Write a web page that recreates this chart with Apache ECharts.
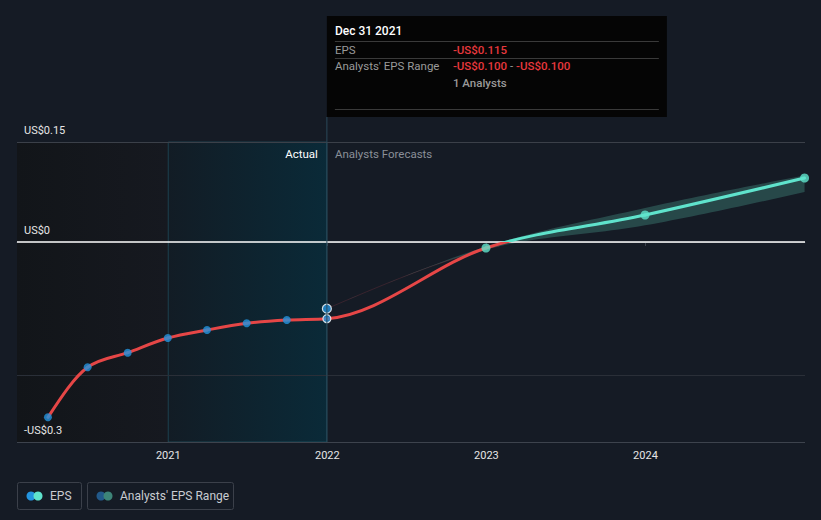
<!DOCTYPE html>
<html><head><meta charset="utf-8">
<script src="https://cdn.jsdelivr.net/npm/echarts@6/dist/echarts.min.js"></script>
<style>html,body{margin:0;padding:0;background:#151b25;}#c{width:821px;height:520px;}</style>
</head><body><div id="c"></div>
<script>
// ---- data ----
const actualDates = ['2020-03-31','2020-06-30','2020-09-30','2020-12-31','2021-03-31','2021-06-30','2021-09-30','2021-12-31'];
const actualEps = [-0.263,-0.188,-0.166,-0.144,-0.132,-0.122,-0.117,-0.115];
const forecastDates = ['2021-12-31','2022-12-31','2023-12-31','2024-12-31'];
const forecastEps = [-0.115,-0.009,0.0405,0.096];
const rangeDates = ['2021-12-31','2022-12-31','2023-12-31','2024-12-31'];
const rangeLow = [-0.100,-0.011,0.025,0.075];
const rangeHigh = [-0.100,-0.007,0.051,0.100];
const yTicks = [0.15, 0, -0.3];
const yTickLabels = ['US$0.15', 'US$0', '-US$0.3'];
const extraGridLine = -0.2;
const xRange = ['2020-01-20','2025-01-01'];
const historyPeriod = ['2020-01-20','2021-01-01'];
const actualPeriod = ['2021-01-01','2021-12-31'];
const hoverDate = '2021-12-31';
const tip = {title:'Dec 31 2021', epsLabel:'EPS', eps:'-US$0.115', rangeLabel:"Analysts' EPS Range", low:'-US$0.100', high:'-US$0.100', analysts:'1 Analysts'};
const legendItems = ['EPS',"Analysts' EPS Range"];

const RED = '#e64646', TEAL = '#5fe3cc', BLUE = '#2394df';
const ts = d => +new Date(d + 'T00:00:00Z');
const zip = (a, b) => a.map((d, i) => [ts(d), b[i]]);
const epsPts = zip(actualDates.concat(forecastDates.slice(1)), actualEps.concat(forecastEps.slice(1)));
const lowPts = zip(rangeDates, rangeLow);
const highPts = zip(rangeDates, rangeHigh);

// monotone-x cubic tangents (pixel space)
function monoTangents(p) {
  const n = p.length, t = new Array(n).fill(0), s = [];
  for (let i = 0; i < n - 1; i++) s.push((p[i + 1][1] - p[i][1]) / (p[i + 1][0] - p[i][0]));
  for (let i = 1; i < n - 1; i++) {
    const h0 = p[i][0] - p[i - 1][0], h1 = p[i + 1][0] - p[i][0], s0 = s[i - 1], s1 = s[i];
    const pp = (s0 * h1 + s1 * h0) / (h0 + h1);
    t[i] = (Math.sign(s0) + Math.sign(s1)) * Math.min(Math.abs(s0), Math.abs(s1), 0.5 * Math.abs(pp)) || 0;
  }
  if (n > 2) { t[0] = (3 * s[0] - t[1]) / 2; t[n - 1] = (3 * s[n - 2] - t[n - 2]) / 2; }
  else { t[0] = t[n - 1] = s[0]; }
  return t;
}
function segment(px, t, i) {
  const [x0, y0] = px[i], [x1, y1] = px[i + 1], dx = (x1 - x0) / 3;
  return [[x0, y0], [x0 + dx, y0 + dx * t[i]], [x1 - dx, y1 - dx * t[i + 1]], [x1, y1]];
}
function sampleCurve(px) {
  const t = monoTangents(px), out = [];
  for (let i = 0; i < px.length - 1; i++) {
    const [a, b, c, d] = segment(px, t, i);
    for (let k = (i === 0 ? 0 : 1); k <= 24; k++) {
      const u = k / 24, v = 1 - u;
      out.push([v*v*v*a[0] + 3*v*v*u*b[0] + 3*v*u*u*c[0] + u*u*u*d[0], v*v*v*a[1] + 3*v*v*u*b[1] + 3*v*u*u*c[1] + u*u*u*d[1]]);
    }
  }
  return out;
}

const chart = echarts.init(document.getElementById('c'), null, {renderer: 'svg'});
const F = 'Roboto, "Noto Sans", sans-serif';
const option = {
  backgroundColor: '#151b25',
  animation: false,
  textStyle: {fontFamily: F},
  grid: {left: 17, right: 16, top: 142, bottom: 78},
  xAxis: {
    type: 'time', min: ts(xRange[0]), max: ts(xRange[1]),
    minInterval: 365 * 864e5, maxInterval: 366 * 864e5,
    axisLine: {lineStyle: {color: '#3d434d', width: 1}},
    axisTick: {show: true, length: 4, lineStyle: {color: '#3d434d'}},
    axisLabel: {color: '#e6e6e6', fontSize: 11, margin: 8, showMinLabel: false, showMaxLabel: false,
      formatter: v => { const d = new Date(v); return (d.getUTCMonth() === 0 && d.getUTCDate() === 1) ? String(d.getUTCFullYear()) : ''; }},
    splitLine: {show: false}
  },
  yAxis: {
    type: 'value', min: -0.3, max: 0.15, interval: 0.05,
    axisLine: {show: false}, axisTick: {show: false}, splitLine: {show: false}, axisLabel: {show: false}
  },
  series: [
    {
      name: "Analysts' EPS Range", type: 'custom', z: 3, silent: true,
      encode: {x: 0, y: 1},
      data: [lowPts[0]],
      renderItem: (params, api) => {
        const up = sampleCurve(highPts.map(p => api.coord(p)));
        const lo = sampleCurve(lowPts.map(p => api.coord(p)));
        const yZ = api.coord([lowPts[0][0], 0])[1];
        return {type: 'group', children: [
          {type: 'polygon', shape: {points: up.concat(lo.slice().reverse())}, style: {fill: 'rgba(75,165,150,0.33)', stroke: 'none'}},
          {type: 'polyline', shape: {points: lo.filter(p => p[1] > yZ + 4)}, style: {fill: 'none', stroke: 'rgba(160,60,70,0.25)', lineWidth: 1}}
        ]};
      }
    },
    {
      name: 'EPS line', type: 'custom', z: 5, silent: true,
      encode: {x: 0, y: 1},
      data: epsPts,
      renderItem: (params, api) => {
        const i = params.dataIndex;
        if (i >= epsPts.length - 1) return null;
        const px = epsPts.map(p => api.coord(p));
        const t = monoTangents(px);
        const [a, b, c, d] = segment(px, t, i);
        const x0 = epsPts[0][0];
        const yT = api.coord([x0, 0.15])[1], yB = api.coord([x0, -0.3])[1], yZ = api.coord([x0, 0])[1];
        const off = (yZ - yT) / (yB - yT);
        return {type: 'bezierCurve',
          shape: {x1: a[0], y1: a[1], cpx1: b[0], cpy1: b[1], cpx2: c[0], cpy2: c[1], x2: d[0], y2: d[1]},
          style: {fill: 'none', lineWidth: 3, lineCap: 'round',
            stroke: {type: 'linear', global: true, x: 0, y: yT, x2: 0, y2: yB,
              colorStops: [{offset: 0, color: TEAL}, {offset: off, color: TEAL}, {offset: off, color: RED}, {offset: 1, color: RED}]}}};
      }
    },
    {
      name: 'EPS', type: 'scatter', z: 7, symbolSize: 8,
      data: zip(actualDates, actualEps).map((p, i) => i === actualDates.length - 1 ? {value: p, itemStyle: {borderColor: '#fff', borderWidth: 1.2}} : p),
      itemStyle: {color: BLUE},
      markArea: {
        silent: true,
        data: [
          [{xAxis: ts(historyPeriod[0]), itemStyle: {color: {type: 'linear', x: 0, y: 0, x2: 1, y2: 0, colorStops: [{offset: 0, color: '#121519'}, {offset: 1, color: '#161920'}]}}}, {xAxis: ts(historyPeriod[1])}],
          [{xAxis: ts(actualPeriod[0]), itemStyle: {borderColor: 'rgba(40,110,130,0.45)', borderWidth: 1, color: {type: 'linear', x: 0, y: 0, x2: 1, y2: 0, colorStops: [{offset: 0, color: '#121c25'}, {offset: 1, color: '#0a2a38'}]}}}, {xAxis: ts(actualPeriod[1])}]
        ]
      },
      markLine: {
        silent: true, symbol: 'none',
        data: yTicks.map((v, i) => ({yAxis: v,
          lineStyle: {color: v === 0 ? '#ffffff' : (v > 0 ? '#3b4049' : '#3d434d'), width: v === 0 ? 1.5 : 1, type: 'solid'},
          label: {show: true, position: 'insideStartTop', formatter: yTickLabels[i], color: '#e6e6e6', fontSize: 11, fontFamily: F, distance: [7, 6]}}))
          .concat([{yAxis: extraGridLine, lineStyle: {color: '#2a2f38', width: 1, type: 'solid'}, label: {show: false}}])
      }
    },
    {
      name: 'Forecast points', type: 'scatter', z: 7, symbolSize: 9,
      data: zip(forecastDates.slice(1), forecastEps.slice(1)),
      itemStyle: {color: TEAL}
    },
    {
      name: 'Range point', type: 'scatter', z: 7, symbolSize: 9,
      data: [highPts[0]],
      itemStyle: {color: BLUE, borderColor: '#fff', borderWidth: 1.2}
    }
  ]
};
chart.setOption(option);

// decorations positioned through the chart's own scales
const xDiv = chart.convertToPixel({xAxisIndex: 0}, ts(hoverDate));
const yTopPx = chart.convertToPixel({yAxisIndex: 0}, 0.15);
const yBotPx = chart.convertToPixel({yAxisIndex: 0}, -0.3);
const tipTop = 16, tipH = 101, tipW = 340;
const txt = (x, y, s, fill, extra) => ({type: 'text', z: 100, x, y, style: Object.assign({text: s, fill, font: '11.5px ' + F, verticalAlign: 'middle', align: 'left'}, extra || {})});
const sep = y => ({type: 'line', z: 101, shape: {x1: xDiv + 8, y1: y, x2: xDiv + 332, y2: y}, style: {stroke: '#3a3a3a', lineWidth: 1}});
const legendBox = (x, w, c1, c2, label) => ([
  {type: 'rect', shape: {x: x + 0.5, y: 482.5, width: w, height: 27, r: 2}, style: {fill: 'none', stroke: '#3b404a', lineWidth: 1}},
  {type: 'circle', shape: {cx: x + 14, cy: 496, r: 4.5}, style: {fill: c1}},
  {type: 'circle', shape: {cx: x + 21, cy: 496, r: 4.5}, style: {fill: c2}},
  txt(x + 33, 496, label, '#c9ccd1', {font: '12px ' + F})
]);
const onTop = o => Object.assign(o, {z: 101});

chart.setOption({
  graphic: [
    {type: 'line', z: 50, shape: {x1: xDiv, y1: tipTop + tipH, x2: xDiv, y2: yBotPx}, style: {stroke: '#2b4858', lineWidth: 1}},
    txt(xDiv - 9, yTopPx + 12, 'Actual', '#ffffff', {align: 'right', font: '11.5px ' + F}),
    txt(xDiv + 8, yTopPx + 12, 'Analysts Forecasts', '#8a8f98', {font: '11.5px ' + F}),
    {type: 'rect', z: 100, shape: {x: xDiv, y: tipTop, width: tipW, height: tipH}, style: {fill: '#050505'}},
    onTop(txt(xDiv + 8, 31, tip.title, '#ffffff', {font: '500 12px ' + F})),
    sep(41.5),
    onTop(txt(xDiv + 8, 49.5, tip.epsLabel, '#9a9a9a')),
    onTop(txt(xDiv + 126, 49.5, tip.eps, '#e8383d', {font: '500 11.5px ' + F})),
    sep(58.5),
    onTop(txt(xDiv + 8, 66, tip.rangeLabel, '#9a9a9a')),
    {type: 'text', z: 101, x: xDiv + 126, y: 66, style: {
      text: '{r|' + tip.low + '}{g| - }{r|' + tip.high + '}', verticalAlign: 'middle',
      rich: {r: {fill: '#e8383d', font: '500 11.5px ' + F}, g: {fill: '#9a9a9a', font: '11.5px ' + F}}}},
    onTop(txt(xDiv + 126, 83, tip.analysts, '#9a9a9a', {font: '500 11.5px ' + F})),
    sep(109.5),
    ...legendBox(17, 64, BLUE, TEAL, legendItems[0]),
    ...legendBox(87, 146, '#22598a', '#3d8478', legendItems[1])
  ]
});
</script></body></html>
